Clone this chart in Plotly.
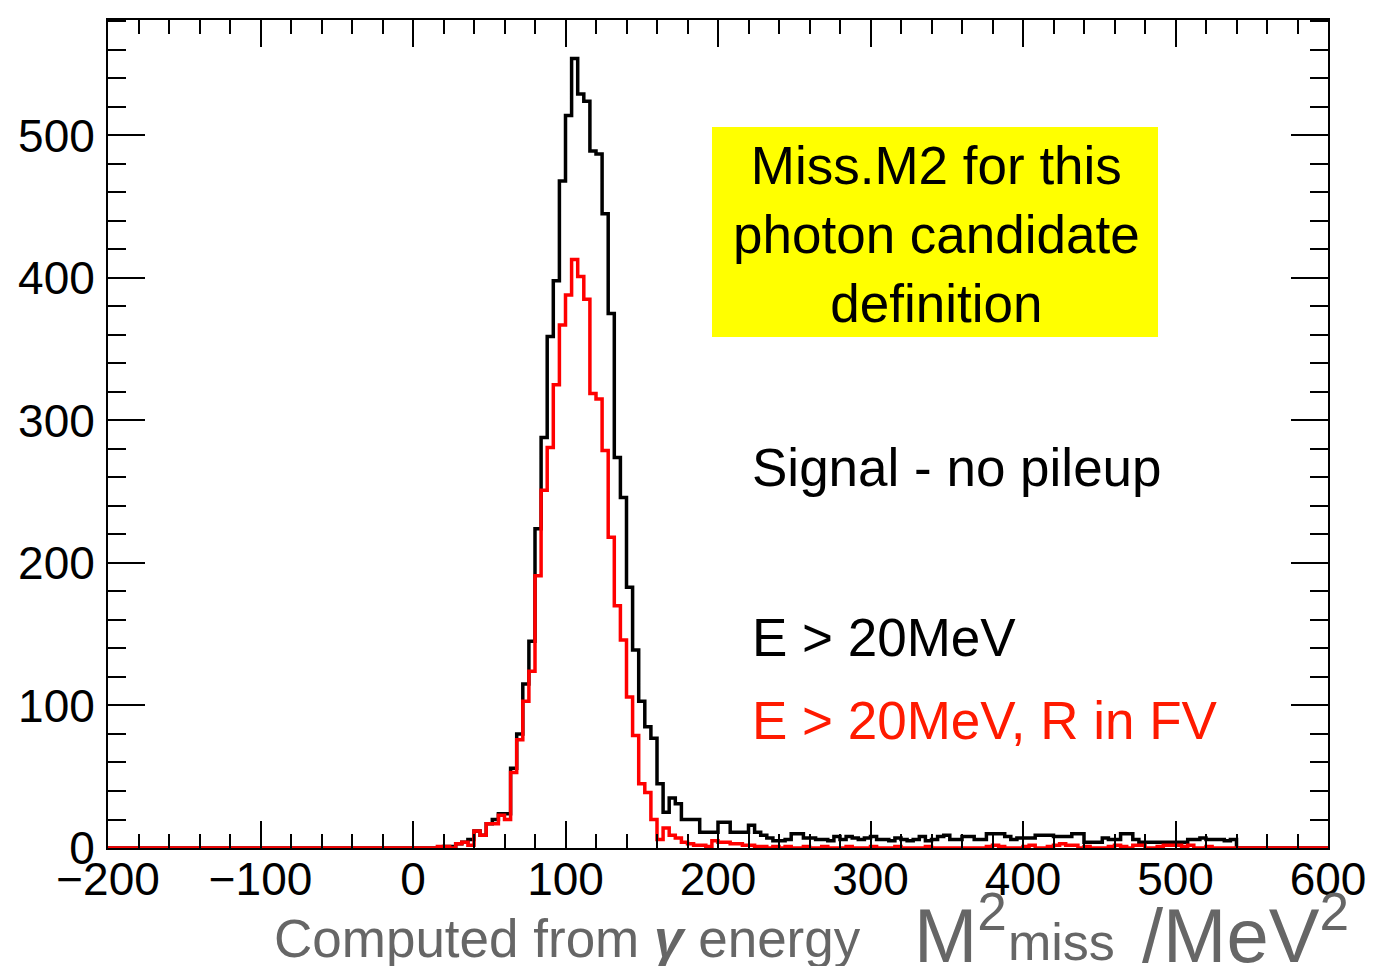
import numpy as np
import plotly.graph_objects as go

# ---- data: 200 bins of width 4 from -200 to 600 ----
bin_width = 4
x_min, x_max = -200, 600

# counts, "E > 20MeV" (black); bins starting at -200 ... 12 are empty
black_counts = [0] * 54 + [
    0, 1, 1, 3, 4, 6, 12, 9, 17, 20,            # 16 .. 52
    24, 24, 56, 80, 115, 145, 224, 288, 359, 398,  # 56 .. 92
    468, 514, 554, 529, 524, 489, 487, 445, 375, 274,  # 96 .. 132
    246, 183, 139, 103, 85, 77, 45, 25, 35, 31,   # 136 .. 172
    20, 20, 20, 11, 11, 11, 18, 18, 11, 11,       # 176 .. 212
    11, 16, 11, 9, 7, 5, 5, 6, 10, 10,            # 216 .. 252
    7, 7, 6, 6, 5, 8, 6, 8, 7, 6,                 # 256 .. 292
    7, 8, 6, 6, 5, 7, 6, 5, 6, 8,                 # 296 .. 332
    5, 6, 8, 9, 6, 6, 8, 8, 6, 6,                 # 336 .. 372
    10, 10, 10, 8, 6, 7, 7, 7, 9, 9,              # 376 .. 412
    9, 8, 8, 8, 10, 10, 4, 4, 4, 7,               # 416 .. 452
    6, 6, 10, 10, 6, 4, 4, 4, 4, 4,               # 456 .. 492
    4, 4, 4, 6, 6, 7, 6, 6, 6, 5,                 # 496 .. 532
    6,                                            # 536
] + [0] * 15                                      # 540 .. 596

# counts, "E > 20MeV, R in FV" (red)
red_counts = [0] * 54 + [
    1, 1, 0, 3, 4, 2, 12, 9, 17, 17,              # 16 .. 52
    23, 20, 53, 76, 103, 124, 191, 251, 281, 325,  # 56 .. 92
    367, 388, 413, 401, 385, 319, 315, 279, 218, 170,  # 96 .. 132
    146, 106, 79, 45, 39, 20, 6, 14, 9, 7,        # 136 .. 172
    4, 3, 2, 2, 1, 5, 4, 4, 3, 3,                 # 176 .. 212
    2, 2, 1, 1, 0, 1, 0, 1, 0, 0,                 # 216 .. 252
    1, 0, 0, 1, 0, 0, 0, 1, 0, 0,                 # 256 .. 292
    0, 1, 0, 0, 0, 1, 0, 0, 0, 0,                 # 296 .. 332
    1, 0, 0, 0, 0, 0, 0, 0, 0, 0,                 # 336 .. 372
    1, 2, 1, 0, 0, 0, 1, 2, 0, 0,                 # 376 .. 412
    1, 2, 3, 2, 2, 0, 1, 0, 0, 0,                 # 416 .. 452
    1, 2, 1, 0, 2, 2, 0, 0, 1, 2,                 # 456 .. 492
    2, 2, 1, 2, 0, 0, 1, 0, 0, 0,                 # 496 .. 532
    0,                                            # 536
] + [0] * 15

n_bins = (x_max - x_min) // bin_width
black_counts = (black_counts + [0] * n_bins)[:n_bins]
red_counts = (red_counts + [0] * n_bins)[:n_bins]

edges = np.arange(x_min, x_max + bin_width, bin_width)
centers = (edges[:-1] + edges[1:]) / 2

def step_xy(counts):
    xs = [edges[0]] + list(centers) + [edges[-1]]
    ys = [counts[0]] + list(counts) + [counts[-1]]
    return xs, ys

x_tick_vals = [-200, -100, 0, 100, 200, 300, 400, 500, 600]
x_tick_text = ["\u2212200", "\u2212100", "0", "100", "200", "300", "400", "500", "600"]
y_tick_vals = [0, 100, 200, 300, 400, 500]

fig = go.Figure()
bx, by = step_xy(black_counts)
rx, ry = step_xy(red_counts)
fig.add_trace(go.Scatter(x=bx, y=by, mode="lines", line=dict(color="black", width=3.5, shape="hvh"),
                         name="E > 20MeV", showlegend=False))
fig.add_trace(go.Scatter(x=rx, y=ry, mode="lines", line=dict(color="#ff0000", width=3.5, shape="hvh"),
                         name="E > 20MeV, R in FV", showlegend=False))

font_main = "Liberation Sans, Arial, sans-serif"

fig.update_layout(
    width=1373, height=966,
    margin=dict(l=108, r=45, t=20, b=118, autoexpand=False),
    paper_bgcolor="white", plot_bgcolor="white",
    font=dict(family=font_main, color="black"),
    xaxis=dict(range=[x_min, x_max], tickvals=x_tick_vals, ticktext=x_tick_text,
               ticks="inside", ticklen=27, tickwidth=2, tickcolor="black",
               minor=dict(dtick=20, ticks="inside", ticklen=14, tickwidth=2, tickcolor="black", showgrid=False),
               showline=True, linecolor="black", linewidth=2, mirror="ticks",
               showgrid=False, zeroline=False, tickfont=dict(size=46, family=font_main),
               ticklabelstandoff=-10, automargin=False),
    yaxis=dict(range=[0, 581], tickvals=y_tick_vals,
               ticks="inside", ticklen=37, tickwidth=2, tickcolor="black",
               minor=dict(dtick=20, ticks="inside", ticklen=18, tickwidth=2, tickcolor="black", showgrid=False),
               showline=True, linecolor="black", linewidth=2, mirror="ticks",
               showgrid=False, zeroline=False, tickfont=dict(size=46, family=font_main),
               ticklabelstandoff=2, automargin=False),
)

def px2paper_x(px):
    return (px - 108) / 1220.0

def px2paper_y(py):
    return (848 - py) / 828.0

fig.add_shape(type="rect", xref="paper", yref="paper",
              x0=px2paper_x(712), x1=px2paper_x(1158), y0=px2paper_y(337), y1=px2paper_y(127),
              fillcolor="#ffff00", line=dict(width=0), layer="above")

fig.add_annotation(xref="paper", yref="paper", x=px2paper_x(936), y=px2paper_y(234),
                   text="Miss.M2 for this<br>photon candidate<br>definition", showarrow=False,
                   xanchor="center", yanchor="middle", align="center",
                   font=dict(size=53, color="black", family=font_main))
fig.add_annotation(xref="paper", yref="paper", x=px2paper_x(750), y=px2paper_y(468),
                   text="Signal - no pileup", showarrow=False, xanchor="left", yanchor="middle",
                   font=dict(size=53, color="black", family=font_main))
fig.add_annotation(xref="paper", yref="paper", x=px2paper_x(750), y=px2paper_y(637),
                   text="E &gt; 20MeV", showarrow=False, xanchor="left", yanchor="middle",
                   font=dict(size=53, color="black", family=font_main))
fig.add_annotation(xref="paper", yref="paper", x=px2paper_x(750), y=px2paper_y(720),
                   text="E &gt; 20MeV, R in FV", showarrow=False, xanchor="left", yanchor="middle",
                   font=dict(size=53, color="#ff1a00", family=font_main))

title_color = "#666666"
fig.add_annotation(xref="paper", yref="paper", x=px2paper_x(272), y=px2paper_y(938),
                   text="Computed from <b><i>\u03b3</i></b> energy", showarrow=False,
                   xanchor="left", yanchor="middle",
                   font=dict(size=53, color=title_color, family=font_main))
fig.add_annotation(xref="paper", yref="paper", x=px2paper_x(912), y=px2paper_y(930),
                   text="M<sup>2</sup>", showarrow=False,
                   xanchor="left", yanchor="middle",
                   font=dict(size=76, color=title_color, family=font_main))
fig.add_annotation(xref="paper", yref="paper", x=px2paper_x(1006), y=px2paper_y(942),
                   text="miss", showarrow=False,
                   xanchor="left", yanchor="middle",
                   font=dict(size=52, color=title_color, family=font_main))
fig.add_annotation(xref="paper", yref="paper", x=px2paper_x(1140), y=px2paper_y(930),
                   text="/MeV<sup>2</sup>", showarrow=False,
                   xanchor="left", yanchor="middle",
                   font=dict(size=76, color=title_color, family=font_main))

fig.write_html("out.html")
